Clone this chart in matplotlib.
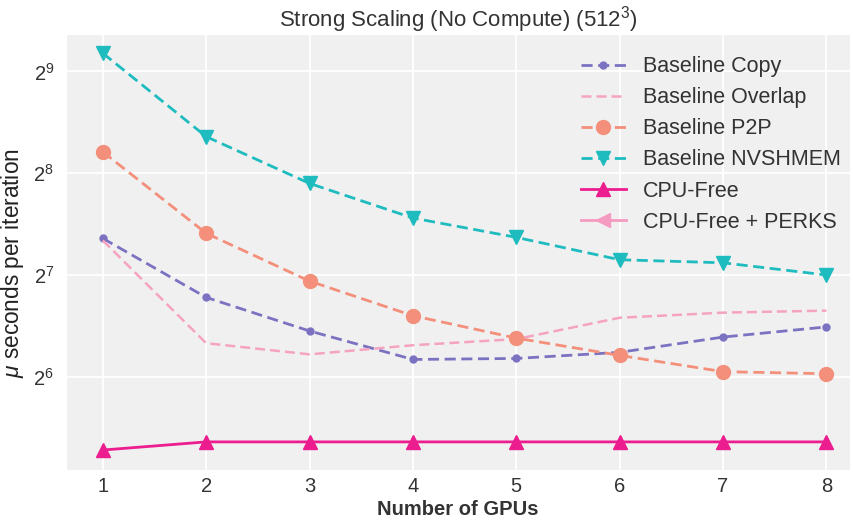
import numpy as np
import matplotlib
matplotlib.use("Agg")
import matplotlib.pyplot as plt
from matplotlib.ticker import FixedLocator

# ---------------------------------------------------------------------------
# Data (log2 of microseconds per iteration)
# ---------------------------------------------------------------------------
GPUS = [1, 2, 3, 4, 5, 6, 7, 8]

LOG2_COPY     = [7.36, 6.78, 6.45, 6.17, 6.18, 6.24, 6.39, 6.49]
LOG2_OVERLAP  = [7.34, 6.33, 6.22, 6.31, 6.37, 6.58, 6.63, 6.65]
LOG2_P2P      = [8.21, 7.41, 6.94, 6.60, 6.38, 6.21, 6.05, 6.03]
LOG2_NVSHMEM  = [9.18, 8.36, 7.90, 7.56, 7.37, 7.15, 7.12, 7.00]
LOG2_CPUFREE  = [5.28, 5.36, 5.36, 5.36, 5.36, 5.36, 5.36, 5.36]
LOG2_PERKS    = [np.nan] * 8  # listed in legend only

Y_TICKS = [6, 7, 8, 9]

plt.rcParams["font.family"] = ["Liberation Sans", "DejaVu Sans"]
plt.rcParams["mathtext.fontset"] = "custom"
plt.rcParams["mathtext.rm"] = "Liberation Sans"
plt.rcParams["mathtext.it"] = "Liberation Sans:italic"

fig = plt.figure(figsize=(8.54, 5.2), dpi=100)
ax = fig.add_axes([0.078, 0.096, 0.917, 0.837])
ax.set_facecolor("#f0f0f0")
for s in ax.spines.values():
    s.set_visible(False)


def p2(v):
    return [2 ** x for x in v]


ax.plot(GPUS, p2(LOG2_COPY), "--", color="#7b72c2", lw=2, marker="o", ms=5,
        dashes=(4, 2), label="Baseline Copy")
ax.plot(GPUS, p2(LOG2_OVERLAP), "--", color="#f5a3c0", lw=1.8,
        dashes=(4, 2), label="Baseline Overlap")
ax.plot(GPUS, p2(LOG2_P2P), "--", color="#f38f7a", lw=2, marker="o", ms=10,
        dashes=(4, 2), label="Baseline P2P")
ax.plot(GPUS, p2(LOG2_NVSHMEM), "--", color="#1fbcbf", lw=2, marker="v", ms=10,
        dashes=(4, 2), label="Baseline NVSHMEM")
ax.plot(GPUS, p2(LOG2_CPUFREE), "-", color="#ec1d8e", lw=2, marker="^", ms=10,
        label="CPU-Free")
ax.plot(GPUS, p2(LOG2_PERKS), "-", color="#f59ac0", lw=2, marker="<", ms=10,
        label="CPU-Free + PERKS")

ax.set_yscale("log", base=2)
ax.set_ylim(2 ** 5.083, 2 ** 9.36)
ax.set_xlim(0.65, 8.226)
ax.yaxis.set_major_locator(FixedLocator([2 ** t for t in Y_TICKS]))
ax.yaxis.set_minor_locator(FixedLocator([]))
ax.set_yticklabels([f"$2^{{{t}}}$" for t in Y_TICKS])
ax.set_xticks(GPUS)

ax.grid(True, color="white", lw=1.3)
ax.set_axisbelow(True)
ax.tick_params(axis="both", length=0, labelsize=14.5, colors="#333333")
ax.tick_params(axis="x", pad=5)
ax.tick_params(axis="y", pad=9)

ax.set_title("Strong Scaling (No Compute) (512$^3$)", fontsize=16,
             color="#333333", pad=6)
ax.set_xlabel("Number of GPUs", fontsize=14.5, fontweight="bold",
              color="#333333", labelpad=3)
ax.set_ylabel("$\\mu$ seconds per iteration", fontsize=16.3,
              color="#222222")
ax.yaxis.set_label_coords(-0.052, 0.476)

leg = ax.legend(loc="upper right", bbox_to_anchor=(1.0, 0.971),
                fontsize=15.5, frameon=False,
                handlelength=2.1, handletextpad=0.8, labelspacing=0.47,
                borderaxespad=0.0)
for t in leg.get_texts():
    t.set_color("#333333")

fig.savefig("out.png", dpi=100)
